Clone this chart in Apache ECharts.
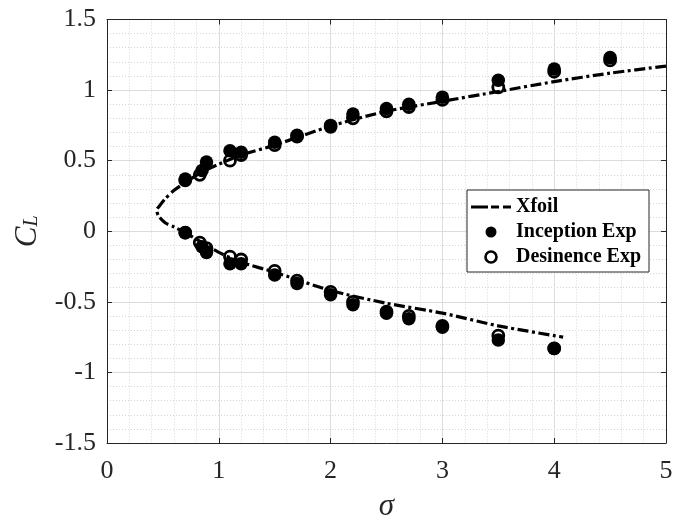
<!DOCTYPE html>
<html>
<head>
<meta charset="utf-8">
<script src="https://cdn.jsdelivr.net/npm/echarts@6/dist/echarts.min.js"></script>
<style>html,body{margin:0;padding:0;background:#fff}#c{width:673px;height:519px}</style>
</head>
<body>
<div id="c"></div>
<script>
// Xfoil curve (sigma, CL), traced from upper end round the nose to the lower end
const xfoilSigma = [5.0, 4.5, 4.0, 3.5, 3.0, 2.5, 2.0, 1.5, 1.2, 1.0, 0.85, 0.7, 0.6, 0.52, 0.47, 0.445, 0.46, 0.52, 0.6, 0.7, 0.85, 1.0, 1.2, 1.5, 2.0, 2.5, 3.0, 3.5, 4.08];
const xfoilCL    = [1.17, 1.12, 1.06, 0.99, 0.92, 0.85, 0.745, 0.61, 0.54, 0.475, 0.42, 0.345, 0.29, 0.23, 0.18, 0.15, 0.11, 0.06, 0.03, -0.01, -0.08, -0.15, -0.22, -0.29, -0.42, -0.51, -0.58, -0.67, -0.75];

// Inception experiment
const incSigma = [0.70, 0.85, 0.89, 1.10, 1.20, 1.50, 1.70, 2.00, 2.20, 2.50, 2.70, 3.00, 3.50, 4.00, 4.50,
                  0.70, 0.85, 0.89, 1.10, 1.20, 1.50, 1.70, 2.00, 2.20, 2.50, 2.70, 3.00, 3.50, 4.00];
const incCL    = [0.37, 0.43, 0.49, 0.57, 0.56, 0.63, 0.68, 0.75, 0.83, 0.87, 0.90, 0.95, 1.07, 1.15, 1.23,
                  -0.01, -0.11, -0.15, -0.23, -0.23, -0.31, -0.37, -0.45, -0.52, -0.58, -0.62, -0.68, -0.77, -0.83];

// Desinence experiment
const desSigma = [0.70, 0.83, 1.10, 1.20, 1.50, 1.70, 2.00, 2.20, 2.50, 2.70, 3.00, 3.50, 4.00, 4.50,
                  0.70, 0.83, 0.89, 1.10, 1.20, 1.50, 1.70, 2.00, 2.20, 2.50, 2.70, 3.00, 3.50, 4.00];
const desCL    = [0.36, 0.40, 0.50, 0.54, 0.61, 0.67, 0.74, 0.80, 0.85, 0.88, 0.93, 1.02, 1.13, 1.21,
                  -0.01, -0.08, -0.12, -0.18, -0.20, -0.28, -0.35, -0.43, -0.50, -0.57, -0.60, -0.67, -0.74, -0.83];

const seriesNames = ['Xfoil', 'Inception Exp', 'Desinence Exp'];

const zip = (a, b) => a.map((v, i) => [v, b[i]]);
const FONT = 'Liberation Serif';
const AX = '#262626';

const chart = echarts.init(document.getElementById('c'));
const baseX = {
  type: 'value', min: 0, max: 5, interval: 1,
  axisLine: { show: true, onZero: false, lineStyle: { color: AX, width: 1 } },
  axisTick: { show: true, inside: true, length: 5, lineStyle: { color: AX } },
  minorTick: { show: false, splitNumber: 5 },
  splitLine: { show: true, lineStyle: { color: '#dcdcdc', width: 1 } },
  minorSplitLine: { show: true, lineStyle: { color: '#d6d6d6', width: 1, type: [1, 2] } },
  axisLabel: { fontFamily: FONT, fontSize: 26, color: AX, margin: 15 }
};
const baseY = {
  type: 'value', min: -1.5, max: 1.5, interval: 0.5,
  axisLine: { show: true, onZero: false, lineStyle: { color: AX, width: 1 } },
  axisTick: { show: true, inside: true, length: 5, lineStyle: { color: AX } },
  minorTick: { show: false, splitNumber: 5 },
  splitLine: { show: true, lineStyle: { color: '#dcdcdc', width: 1 } },
  minorSplitLine: { show: true, lineStyle: { color: '#d6d6d6', width: 1, type: [1, 2] } },
  axisLabel: { fontFamily: FONT, fontSize: 26, color: AX, margin: 11 }
};

chart.setOption({
  animation: false,
  backgroundColor: '#fff',
  grid: { left: 107, right: 7, top: 19.5, bottom: 76, show: false, containLabel: false, outerBoundsMode: 'none' },
  xAxis: [
    Object.assign({}, baseX, {
      position: 'bottom',
      name: 'σ', nameLocation: 'middle', nameGap: 48,
      nameTextStyle: { fontFamily: FONT, fontSize: 31, fontStyle: 'italic', color: AX }
    }),
    Object.assign({}, baseX, {
      position: 'top', axisLabel: { show: false },
      splitLine: { show: false }, minorSplitLine: { show: false }
    })
  ],
  yAxis: [
    Object.assign({}, baseY, {
      position: 'left',
      name: '{c|C}{s|L}', nameLocation: 'middle', nameGap: 64, nameRotate: 90,
      nameTextStyle: {
        color: AX,
        rich: {
          c: { fontFamily: FONT, fontSize: 31, fontStyle: 'italic', color: AX },
          s: { fontFamily: FONT, fontSize: 20, fontStyle: 'italic', color: AX, padding: [8, 0, 0, 0] }
        }
      }
    }),
    Object.assign({}, baseY, {
      position: 'right', axisLabel: { show: false },
      splitLine: { show: false }, minorSplitLine: { show: false }
    })
  ],
  legend: {
    data: [
      { name: seriesNames[0], icon: 'path://M0 0H17V3H0Z M20 0H28V3H20Z M32 0H40V3H32Z' },
      { name: seriesNames[1] },
      { name: seriesNames[2], itemStyle: { color: 'rgba(0,0,0,0)', borderColor: '#000', borderWidth: 2.6 } }
    ],
    orient: 'vertical',
    left: 467, top: 190,
    padding: [7, 8, 5, 4],
    itemWidth: 40, itemHeight: 11, itemGap: 5,
    backgroundColor: '#fff',
    borderColor: AX, borderWidth: 1,
    textStyle: { fontFamily: FONT, fontSize: 20, fontWeight: 'bold', color: '#000' }
  },
  series: [
    {
      name: seriesNames[0], type: 'line', data: zip(xfoilSigma, xfoilCL),
      symbol: 'none', smooth: 0.25, z: 2,
      lineStyle: { color: '#000', width: 3.2, type: [11, 3.5, 3, 3.5] },
      itemStyle: { color: '#000' }
    },
    {
      name: seriesNames[1], type: 'scatter', data: zip(incSigma, incCL),
      symbol: 'circle', symbolSize: 13.5, z: 3,
      itemStyle: { color: '#000', opacity: 1 }
    },
    {
      name: seriesNames[2], type: 'scatter', data: zip(desSigma, desCL),
      symbol: 'circle', symbolSize: 11, z: 4,
      itemStyle: { color: 'rgba(0,0,0,0)', borderColor: '#000', borderWidth: 2.8, opacity: 1 }
    }
  ]
});
</script>
</body>
</html>
